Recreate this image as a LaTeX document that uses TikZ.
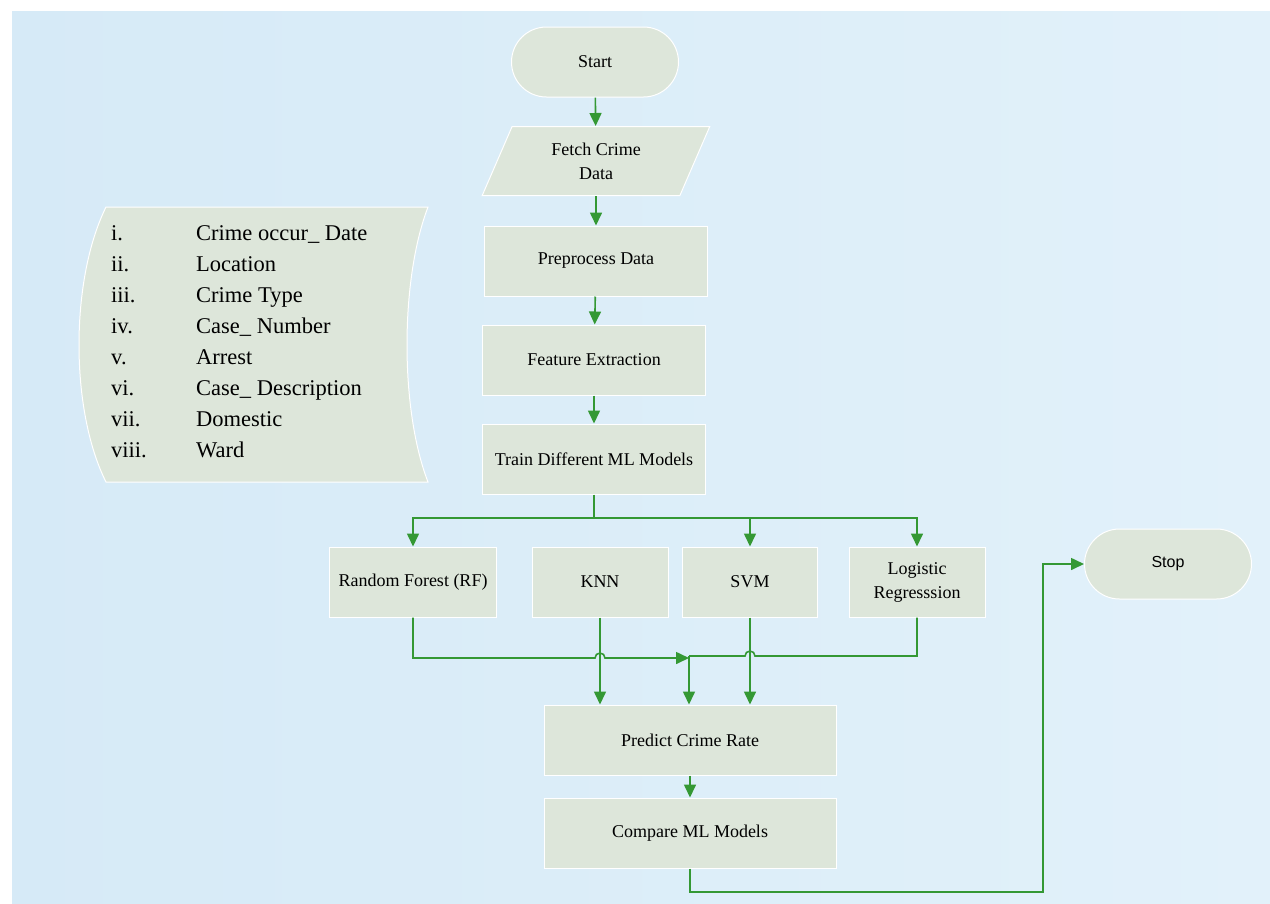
\documentclass[tikz,border=0pt]{standalone}
\usepackage{fontspec}
\setmainfont{Liberation Serif}
\newfontfamily\stopfont{Liberation Sans}
\usetikzlibrary{arrows.meta,shapes.geometric,shapes.misc,calc}
\definecolor{bgL}{RGB}{214,234,247}
\definecolor{bgR}{RGB}{226,241,250}
\definecolor{boxfill}{RGB}{221,230,218}
\definecolor{flow}{RGB}{52,152,52}
\begin{document}
\begin{tikzpicture}[x=1pt,y=-1pt,
  base/.style={draw=white, line width=1pt, fill=boxfill, inner sep=0pt, align=center,
    font=\fontsize{18}{24}\selectfont},
  procbox/.style={base, rectangle, minimum height=70pt},
  pill/.style={base, rounded rectangle, minimum width=167pt, minimum height=70pt},
  iobox/.style={base, trapezium, trapezium left angle=66.5, trapezium right angle=113.5,
    trapezium stretches=true, minimum width=228pt, minimum height=69pt},
  line/.style={draw=flow, line width=1.6pt},
  arr/.style={line, -{Triangle[length=13pt,width=12pt]}},
  legtxt/.style={anchor=base west, inner sep=0pt, font=\fontsize{22.5}{27}\selectfont}
]
\useasboundingbox (0,0) rectangle (1270,903);
\fill[white] (0,0) rectangle (1270,903);
\shade[left color=bgL, right color=bgR] (12,11) rectangle (1270,903);

% main column
\node[pill] (start) at (595,62) {Start};
\node[iobox] (fetch) at (596,161) {Fetch Crime\\Data};
\node[procbox, minimum width=223pt] (prep) at (596,261) {Preprocess Data};
\node[procbox, minimum width=223pt] (feat) at (594,360) {Feature Extraction};
\node[procbox, minimum width=223pt] (train) at (594,459) {Train Different ML Models};

% models
\node[procbox, minimum width=167pt] (rf) at (413,582) {Random Forest (RF)};
\node[procbox, minimum width=136pt] (knn) at (600,582) {KNN};
\node[procbox, minimum width=135pt] (svm) at (750,582) {SVM};
\node[procbox, minimum width=136pt] (lr) at (917,582) {Logistic\\Regresssion};

\node[procbox, minimum width=292pt] (pred) at (690,740) {Predict Crime Rate};
\node[procbox, minimum width=292pt] (cmp) at (690,833) {Compare ML Models};

\node[pill, font=\stopfont\fontsize{16}{20}\selectfont] (stop) at (1168,564) {Stop};

% legend (stored data shape)
\path[fill=boxfill, draw=white, line width=1pt]
  (106,207) -- (428,207)
  .. controls (400,280) and (400,410) .. (428,482)
  -- (106,482)
  .. controls (70,410) and (70,280) .. (106,207) -- cycle;
\foreach \r/\t [count=\i from 0] in {i./Crime occur\_ Date, ii./Location, iii./Crime Type,
   iv./Case\_ Number, v./Arrest, vi./Case\_ Description, vii./Domestic, viii./Ward}{
  \node[legtxt] (ln\i) at (111,240+31*\i) {\r};
  \node[legtxt] (lt\i) at (196,240+31*\i) {\t};
}

% connectors
\draw[arr] (start) -- (fetch);
\draw[arr] (fetch) -- (prep);
\draw[arr] (prep) -- (feat);
\draw[arr] (feat) -- (train);

\coordinate (b) at (594,518);
\draw[line] (train.south) -- (b);
\draw[arr] (b) -| (rf.north);
\draw[arr] (b) -| (svm.north);
\draw[arr] (b) -| (lr.north);

\coordinate (j1) at (600,658);
\coordinate (m) at (689,658);
\coordinate (j2) at (750,656);
\coordinate (m2) at (689,656);
\draw[arr] (rf.south) |- ($(j1)+(-5,0)$) arc (180:360:5) -- (m);
\draw[line] (lr.south) |- ($(j2)+(5,0)$) arc (360:180:5) -- (m2);
\draw[arr] (m2) -- (m2 |- pred.north);
\draw[arr] (knn.south) -- (knn.south |- pred.north);
\draw[arr] (svm.south) -- (svm.south |- pred.north);

\draw[arr] (pred) -- (cmp);
\coordinate (c1) at (1043,892);
\draw[arr] (cmp.south) |- (c1) |- (stop.west);
\end{tikzpicture}
\end{document}
